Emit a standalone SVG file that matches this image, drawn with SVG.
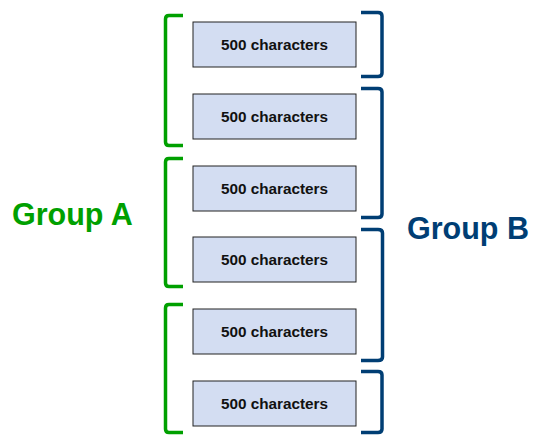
<svg xmlns="http://www.w3.org/2000/svg" width="535" height="435" viewBox="0 0 535 435">
<style>
.box{fill:#d3ddf2;stroke:#222;stroke-width:1}
.lbl{font-family:"Liberation Sans",Arial,sans-serif;font-weight:bold;font-size:15.3px;fill:#111;text-anchor:middle}
.ga{fill:none;stroke:#00a000;stroke-width:3.5}
.gb{fill:none;stroke:#003e74;stroke-width:3.5}
.title{font-family:"Liberation Sans",Arial,sans-serif;font-weight:bold;font-size:30.5px}
</style>
<rect width="535" height="435" fill="#fff"/>
<g id="node1"><rect class="box" x="193" y="22" width="163" height="45"/><text class="lbl" x="274.5" y="50">500 characters</text></g>
<g id="node2"><rect class="box" x="193" y="94" width="163" height="45"/><text class="lbl" x="274.5" y="122">500 characters</text></g>
<g id="node3"><rect class="box" x="193" y="166" width="163" height="45"/><text class="lbl" x="274.5" y="194">500 characters</text></g>
<g id="node4"><rect class="box" x="193" y="237" width="163" height="45"/><text class="lbl" x="274.5" y="265">500 characters</text></g>
<g id="node5"><rect class="box" x="193" y="309" width="163" height="45"/><text class="lbl" x="274.5" y="337">500 characters</text></g>
<g id="node6"><rect class="box" x="193" y="381" width="163" height="45"/><text class="lbl" x="274.5" y="409">500 characters</text></g>
<g id="connectors">
<path class="ga" d="M183,15.5 H169 Q165.5,15.5 165.5,19 V142 Q165.5,145.5 169,145.5 H183"/>
<path class="ga" d="M183,158.5 H169 Q165.5,158.5 165.5,162 V283 Q165.5,286.5 169,286.5 H183"/>
<path class="ga" d="M183,304.5 H169 Q165.5,304.5 165.5,308 V429 Q165.5,432.5 169,432.5 H183"/>
<path class="gb" d="M361,12.5 H378 Q382,12.5 382,16 V73 Q382,76.5 378,76.5 H361"/>
<path class="gb" d="M361,88.5 H378 Q382,88.5 382,92 V214 Q382,217.5 378,217.5 H361"/>
<path class="gb" d="M361,229.5 H378 Q382.5,229.5 382.5,233 V357 Q382.5,360.5 378,360.5 H361"/>
<path class="gb" d="M361,371.5 H378 Q382,371.5 382,375 V429 Q382,432.5 378,432.5 H361"/>
</g>
<g id="groupA"><text class="title" x="12" y="225" fill="#00a000">Group A</text></g>
<g id="groupB"><text class="title" x="407" y="239" fill="#003e74">Group B</text></g>
</svg>
